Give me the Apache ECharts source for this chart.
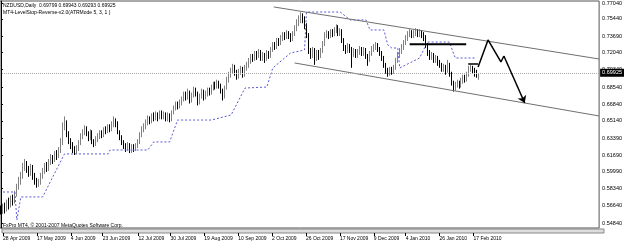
<!DOCTYPE html>
<html>
<head>
<meta charset="utf-8">
<script src="https://cdn.jsdelivr.net/npm/echarts@6/dist/echarts.min.js"></script>
<style>
  html, body { margin: 0; padding: 0; background: #fff; }
  #chart { width: 625px; height: 244px; }
</style>
</head>
<body>
<div id="chart"></div>
<script>
// NZDUSD daily candles, [open, close, low, high]
const candles = [
  [0.5620,0.5600,0.5570,0.5660],
  [0.5600,0.5640,0.5575,0.5680],[0.5640,0.5620,0.5580,0.5690],[0.5620,0.5680,0.5600,0.5720],[0.5680,0.5660,0.5620,0.5740],
  [0.5660,0.5720,0.5640,0.5760],[0.5720,0.5700,0.5660,0.5770],[0.5700,0.5780,0.5680,0.5810],[0.5780,0.5850,0.5750,0.5880],
  [0.5850,0.5900,0.5820,0.5950],[0.5900,0.5960,0.5870,0.6000],[0.5960,0.6050,0.5930,0.6090],[0.6050,0.6080,0.6010,0.6130],
  [0.6080,0.6020,0.5990,0.6110],[0.6020,0.5990,0.5950,0.6060],[0.5990,0.6040,0.5960,0.6080],[0.6040,0.5950,0.5920,0.6070],
  [0.5950,0.5910,0.5870,0.5990],[0.5910,0.5870,0.5840,0.5940],[0.5870,0.5890,0.5850,0.5930],[0.5890,0.5960,0.5870,0.5990],
  [0.5960,0.6010,0.5930,0.6040],[0.6010,0.6060,0.5980,0.6090],[0.6060,0.6040,0.6000,0.6100],[0.6040,0.6100,0.6010,0.6130],
  [0.6100,0.6140,0.6070,0.6180],[0.6140,0.6120,0.6080,0.6170],[0.6120,0.6180,0.6100,0.6210],[0.6180,0.6160,0.6120,0.6220],
  [0.6160,0.6220,0.6140,0.6250],[0.6220,0.6290,0.6190,0.6340],[0.6290,0.6470,0.6270,0.6500],[0.6470,0.6500,0.6420,0.6560],
  [0.6500,0.6380,0.6350,0.6520],[0.6380,0.6310,0.6280,0.6410],[0.6310,0.6270,0.6230,0.6340],[0.6270,0.6240,0.6190,0.6300],
  [0.6240,0.6200,0.6170,0.6260],[0.6200,0.6230,0.6180,0.6270],[0.6230,0.6290,0.6210,0.6320],[0.6290,0.6360,0.6270,0.6390],
  [0.6360,0.6400,0.6330,0.6430],[0.6400,0.6440,0.6370,0.6470],[0.6440,0.6390,0.6360,0.6460],[0.6390,0.6350,0.6310,0.6410],
  [0.6350,0.6410,0.6320,0.6430],[0.6410,0.6300,0.6280,0.6420],[0.6300,0.6280,0.6250,0.6330],[0.6280,0.6330,0.6260,0.6360],
  [0.6330,0.6360,0.6300,0.6390],[0.6360,0.6390,0.6330,0.6420],[0.6390,0.6370,0.6340,0.6420],[0.6370,0.6420,0.6350,0.6450],
  [0.6420,0.6410,0.6380,0.6460],[0.6410,0.6450,0.6390,0.6480],[0.6450,0.6430,0.6400,0.6480],[0.6430,0.6480,0.6410,0.6510],
  [0.6480,0.6520,0.6450,0.6560],[0.6520,0.6490,0.6450,0.6540],[0.6490,0.6400,0.6380,0.6510],[0.6400,0.6350,0.6320,0.6420],
  [0.6350,0.6300,0.6270,0.6370],[0.6300,0.6260,0.6230,0.6320],[0.6260,0.6240,0.6200,0.6290],[0.6240,0.6270,0.6210,0.6300],
  [0.6270,0.6220,0.6190,0.6290],[0.6220,0.6250,0.6190,0.6280],[0.6250,0.6230,0.6200,0.6280],[0.6230,0.6260,0.6210,0.6290],
  [0.6260,0.6300,0.6240,0.6330],[0.6300,0.6370,0.6280,0.6400],[0.6370,0.6430,0.6350,0.6460],[0.6430,0.6460,0.6400,0.6490],
  [0.6460,0.6500,0.6430,0.6530],[0.6500,0.6530,0.6470,0.6570],[0.6530,0.6510,0.6480,0.6560],[0.6510,0.6560,0.6490,0.6590],
  [0.6560,0.6540,0.6510,0.6600],[0.6540,0.6570,0.6520,0.6610],[0.6570,0.6550,0.6510,0.6600],[0.6550,0.6590,0.6530,0.6620],
  [0.6590,0.6560,0.6530,0.6620],[0.6560,0.6580,0.6530,0.6610],[0.6580,0.6540,0.6510,0.6600],[0.6540,0.6570,0.6510,0.6600],
  [0.6570,0.6530,0.6500,0.6590],[0.6530,0.6600,0.6510,0.6620],[0.6600,0.6640,0.6580,0.6670],[0.6640,0.6680,0.6620,0.6710],
  [0.6680,0.6660,0.6630,0.6710],[0.6660,0.6700,0.6640,0.6730],[0.6700,0.6730,0.6670,0.6760],[0.6730,0.6780,0.6710,0.6810],
  [0.6780,0.6750,0.6720,0.6810],[0.6750,0.6800,0.6730,0.6840],[0.6800,0.6720,0.6690,0.6820],[0.6720,0.6770,0.6700,0.6800],
  [0.6770,0.6830,0.6750,0.6860],[0.6830,0.6790,0.6760,0.6850],[0.6790,0.6700,0.6670,0.6810],[0.6700,0.6760,0.6680,0.6790],
  [0.6760,0.6810,0.6740,0.6840],[0.6810,0.6750,0.6720,0.6830],[0.6750,0.6790,0.6730,0.6820],[0.6790,0.6820,0.6760,0.6850],
  [0.6820,0.6800,0.6770,0.6850],[0.6800,0.6850,0.6780,0.6880],[0.6850,0.6880,0.6820,0.6910],[0.6880,0.6860,0.6830,0.6910],
  [0.6860,0.6900,0.6840,0.6930],[0.6900,0.6870,0.6840,0.6920],[0.6870,0.6820,0.6790,0.6890],[0.6820,0.6760,0.6720,0.6840],
  [0.6760,0.6850,0.6740,0.6870],[0.6850,0.6930,0.6830,0.6960],[0.6930,0.6980,0.6900,0.7010],[0.6980,0.7020,0.6950,0.7050],
  [0.7020,0.7060,0.6990,0.7090],[0.7060,0.7000,0.6970,0.7080],[0.7000,0.6960,0.6930,0.7030],[0.6960,0.7010,0.6940,0.7040],
  [0.7010,0.7040,0.6980,0.7070],[0.7040,0.6980,0.6950,0.7060],[0.6980,0.7050,0.6960,0.7080],[0.7050,0.7080,0.7020,0.7110],
  [0.7080,0.7120,0.7050,0.7150],[0.7120,0.7160,0.7090,0.7190],[0.7160,0.7140,0.7110,0.7190],[0.7140,0.7190,0.7120,0.7220],
  [0.7190,0.7170,0.7130,0.7220],[0.7170,0.7210,0.7150,0.7240],[0.7210,0.7150,0.7120,0.7230],[0.7150,0.7180,0.7120,0.7210],
  [0.7180,0.7140,0.7100,0.7200],[0.7140,0.7200,0.7120,0.7230],[0.7200,0.7170,0.7140,0.7220],[0.7170,0.7230,0.7150,0.7260],
  [0.7230,0.7280,0.7210,0.7310],[0.7280,0.7260,0.7230,0.7310],[0.7260,0.7320,0.7240,0.7350],[0.7320,0.7300,0.7270,0.7350],
  [0.7300,0.7350,0.7280,0.7380],[0.7350,0.7380,0.7320,0.7410],[0.7380,0.7360,0.7330,0.7410],[0.7360,0.7400,0.7340,0.7430],
  [0.7400,0.7370,0.7340,0.7420],[0.7370,0.7340,0.7310,0.7400],[0.7340,0.7390,0.7320,0.7420],[0.7390,0.7450,0.7370,0.7480],
  [0.7450,0.7500,0.7420,0.7540],[0.7500,0.7530,0.7470,0.7580],[0.7530,0.7560,0.7500,0.7610],[0.7560,0.7540,0.7500,0.7600],
  [0.7540,0.7470,0.7440,0.7570],[0.7470,0.7380,0.7350,0.7500],[0.7380,0.7210,0.7190,0.7400],[0.7210,0.7180,0.7140,0.7250],
  [0.7180,0.7230,0.7150,0.7260],[0.7230,0.7150,0.7080,0.7250],[0.7150,0.7200,0.7120,0.7230],[0.7200,0.7170,0.7130,0.7230],
  [0.7170,0.7220,0.7150,0.7250],[0.7220,0.7290,0.7200,0.7320],[0.7290,0.7380,0.7270,0.7410],[0.7380,0.7400,0.7350,0.7430],
  [0.7400,0.7370,0.7340,0.7420],[0.7370,0.7410,0.7350,0.7440],[0.7410,0.7390,0.7360,0.7440],[0.7390,0.7430,0.7370,0.7460],
  [0.7430,0.7460,0.7400,0.7490],[0.7460,0.7400,0.7370,0.7480],[0.7400,0.7420,0.7370,0.7450],[0.7420,0.7330,0.7300,0.7440],
  [0.7330,0.7250,0.7220,0.7350],[0.7250,0.7230,0.7190,0.7280],[0.7230,0.7270,0.7200,0.7300],[0.7270,0.7240,0.7200,0.7290],
  [0.7240,0.7190,0.7050,0.7260],[0.7190,0.7220,0.7160,0.7250],[0.7220,0.7180,0.7150,0.7240],[0.7180,0.7210,0.7150,0.7240],
  [0.7210,0.7240,0.7180,0.7270],[0.7240,0.7200,0.7170,0.7260],[0.7200,0.7230,0.7170,0.7260],[0.7230,0.7170,0.7140,0.7250],
  [0.7170,0.7130,0.7070,0.7190],[0.7130,0.7190,0.7110,0.7220],[0.7190,0.7240,0.7170,0.7270],[0.7240,0.7260,0.7210,0.7290],
  [0.7260,0.7280,0.7230,0.7310],[0.7280,0.7240,0.7210,0.7300],[0.7240,0.7200,0.7170,0.7260],[0.7200,0.7150,0.7120,0.7220],
  [0.7150,0.7080,0.7050,0.7170],[0.7080,0.7020,0.6990,0.7100],[0.7020,0.6990,0.6960,0.7050],[0.6990,0.7030,0.6970,0.7060],
  [0.7030,0.7010,0.6980,0.7060],[0.7010,0.7050,0.6990,0.7080],[0.7050,0.7120,0.7030,0.7150],[0.7120,0.7180,0.7100,0.7210],
  [0.7180,0.7220,0.7150,0.7250],[0.7220,0.7260,0.7190,0.7290],[0.7260,0.7300,0.7230,0.7330],[0.7300,0.7350,0.7280,0.7380],
  [0.7350,0.7390,0.7320,0.7420],[0.7390,0.7410,0.7360,0.7440],[0.7410,0.7380,0.7350,0.7430],[0.7380,0.7400,0.7350,0.7430],
  [0.7400,0.7420,0.7370,0.7450],[0.7420,0.7390,0.7360,0.7440],[0.7390,0.7410,0.7360,0.7440],[0.7410,0.7380,0.7350,0.7430],
  [0.7380,0.7360,0.7320,0.7410],[0.7360,0.7280,0.7250,0.7380],[0.7280,0.7200,0.7170,0.7300],[0.7200,0.7160,0.7130,0.7230],
  [0.7160,0.7180,0.7130,0.7210],[0.7180,0.7130,0.7100,0.7200],[0.7130,0.7150,0.7100,0.7180],[0.7150,0.7100,0.7070,0.7170],
  [0.7100,0.7080,0.7050,0.7130],[0.7080,0.7040,0.7010,0.7100],[0.7040,0.7060,0.7010,0.7090],[0.7060,0.7010,0.6980,0.7080],
  [0.7010,0.7090,0.7000,0.7130],[0.7090,0.6990,0.6960,0.7100],[0.6990,0.6900,0.6870,0.7010],[0.6900,0.6850,0.6810,0.6920],
  [0.6850,0.6880,0.6820,0.6910],[0.6880,0.6900,0.6850,0.6930],[0.6900,0.6870,0.6840,0.6920],[0.6870,0.6920,0.6850,0.6950],
  [0.6920,0.6950,0.6890,0.6980],[0.6950,0.6930,0.6900,0.6980],[0.6930,0.6980,0.6910,0.7010],[0.6980,0.7040,0.6960,0.7070],
  [0.7040,0.7060,0.7010,0.7080],[0.7060,0.7020,0.6990,0.7070],[0.7020,0.6990,0.6960,0.7050],[0.6990,0.6980,0.6950,0.7030],
  [0.69799,0.69925,0.69293,0.69943]
];

const dateLabels = ['28 Apr 2009', '17 May 2009', '4 Jun 2009', '23 Jun 2009', '12 Jul 2009', '30 Jul 2009',
  '19 Aug 2009', '10 Sep 2009', '2 Oct 2009', '26 Oct 2009', '17 Nov 2009', '9 Dec 2009', '4 Jan 2010',
  '26 Jan 2010', '17 Feb 2010'];
const dateLabelIdx = [0, 17, 34, 50, 68, 84, 101, 118, 135, 152, 169, 186, 202, 219, 236];
const priceTicks = [0.77040, 0.75440, 0.73690, 0.72040, 0.70340, 0.68540, 0.66840, 0.65140, 0.63390,
  0.61690, 0.59990, 0.58340, 0.56640, 0.54840];
const lastPrice = 0.69925;

// MT4-LevelStop-Reverse line, [bar, price] at its turns
const stopLine = [[1,0.5797],[7,0.5797],[8,0.5514],[10,0.5747],[21,0.5747],[32,0.6181],[54,0.6181],[55,0.6221],
  [74,0.6221],[77,0.6302],[85,0.6302],[89,0.6523],[106,0.6523],[116,0.6574],[123,0.6846],[134,0.6856],
  [137,0.7048],[146,0.7200],[153,0.7230],[154,0.7613],[171,0.7613],[176,0.7533],[184,0.7533],[186,0.7432],
  [193,0.7432],[195,0.7280],[197,0.7250],[200,0.7250],[201,0.7048],[211,0.7149],[215,0.7310],[226,0.7310],
  [229,0.7149],[239,0.7149]];

// hand drawn objects, [bar, price]
const channelUpper = [[137.5, 0.7664], [301.5, 0.7139]];
const channelLower = [[148, 0.7099], [301.5, 0.6564]];
const levelLine = [[206, 0.7287], [234.5, 0.7287]];
const smallLevel = [[235.5, 0.7089], [240.5, 0.7089]];
const pathLine = [[240.5, 0.7058], [245.5, 0.7331], [252, 0.7109], [253.5, 0.7169]];
const pathArrow = [[253.5, 0.7169], [264, 0.6695]];

const slots = Array.from({ length: 302 }, (_, i) => String(i));
const FONT = 'Liberation Sans';

const chart = echarts.init(document.getElementById('chart'));

const drawn = (data, color, width) => ({
  type: 'line', xAxisIndex: 1, yAxisIndex: 0, data: data, symbol: 'none', silent: true,
  lineStyle: { color: color, width: width }, z: 4
});

const option = {
  animation: false,
  backgroundColor: '#fff',
  textStyle: { fontFamily: FONT },
  grid: [
    { left: 0, right: 21, top: 1, height: 227, show: true, borderColor: '#555', borderWidth: 1 },
    { left: 0, right: 21, top: 229, height: 4, show: true, borderColor: '#888', borderWidth: 1, backgroundColor: '#ddd' }
  ],
  graphic: [
    { type: 'text', left: 3, top: 3, style: { text: 'NZDUSD,Daily  0.69799 0.69943 0.69293 0.69925', fontSize: 5, fill: '#000', fontFamily: FONT } },
    { type: 'text', left: 3, top: 10, style: { text: 'MT4-LevelStop-Reverse-v2.0(ATRMode 5, 3, 1 )', fontSize: 5, fill: '#000', fontFamily: FONT } },
    { type: 'text', left: 3, top: 223, style: { text: 'FxPro MT4, \u00a9 2001-2007 MetaQuotes Software Corp.', fontSize: 5, fill: '#000', fontFamily: FONT } }
  ],
  xAxis: [
    { type: 'category', gridIndex: 0, data: slots, boundaryGap: true, show: false },
    { type: 'value', gridIndex: 0, min: -0.5, max: 301.5, show: false },
    {
      type: 'category', gridIndex: 1, data: slots, boundaryGap: true, position: 'bottom',
      axisLine: { show: false },
      axisTick: { show: true, length: 3, alignWithLabel: true, interval: (i) => dateLabelIdx.includes(i), lineStyle: { color: '#000' } },
      axisLabel: {
        interval: (i) => dateLabelIdx.includes(i), align: 'left', margin: 3, fontSize: 5, color: '#000', fontFamily: FONT,
        formatter: (v, i) => dateLabels[dateLabelIdx.indexOf(i)] || ''
      }
    }
  ],
  yAxis: [
    {
      type: 'value', gridIndex: 0, position: 'right', min: 0.54337, max: 0.77242, scale: true,
      splitLine: { show: false },
      axisLine: { show: true, lineStyle: { color: '#000' } },
      axisTick: { show: true, length: 2, customValues: priceTicks, lineStyle: { color: '#000' } },
      axisLabel: { customValues: priceTicks, formatter: (v) => v.toFixed(5), fontSize: 5.5, margin: 3, color: '#000', fontFamily: FONT }
    },
    { type: 'value', gridIndex: 1, show: false }
  ],
  series: [
    {
      type: 'candlestick', xAxisIndex: 0, yAxisIndex: 0, data: candles, barMaxWidth: 1, silent: true,
      itemStyle: { color: '#9a9a9a', color0: '#000', borderColor: '#808080', borderColor0: '#000', borderWidth: 1 },
      markLine: {
        silent: true, symbol: 'none',
        data: [{ yAxis: lastPrice }],
        lineStyle: { color: '#aaa', type: 'dotted', width: 1 },
        label: {
          position: 'end', distance: 1, formatter: lastPrice.toFixed(5), fontSize: 5.5, color: '#fff',
          backgroundColor: '#000', padding: [1, 2], fontFamily: FONT
        }
      }
    },
    {
      type: 'line', xAxisIndex: 1, yAxisIndex: 0, data: stopLine, symbol: 'none', silent: true,
      lineStyle: { color: '#5a5ad6', width: 1, type: [2, 2] }, z: 3
    },
    drawn(channelUpper, '#707070', 1),
    drawn(channelLower, '#707070', 1),
    drawn(levelLine, '#000', 2),
    drawn(smallLevel, '#000', 1.5),
    drawn(pathLine, '#000', 1.5),
    {
      type: 'line', xAxisIndex: 1, yAxisIndex: 0, data: [], silent: true,
      markLine: {
        silent: true, symbol: ['none', 'arrow'], symbolSize: 7,
        lineStyle: { color: '#000', width: 1.5, type: 'solid' }, label: { show: false },
        data: [[{ coord: pathArrow[0] }, { coord: pathArrow[1] }]]
      }
    }
  ]
};

chart.setOption(option);
</script>
</body>
</html>
